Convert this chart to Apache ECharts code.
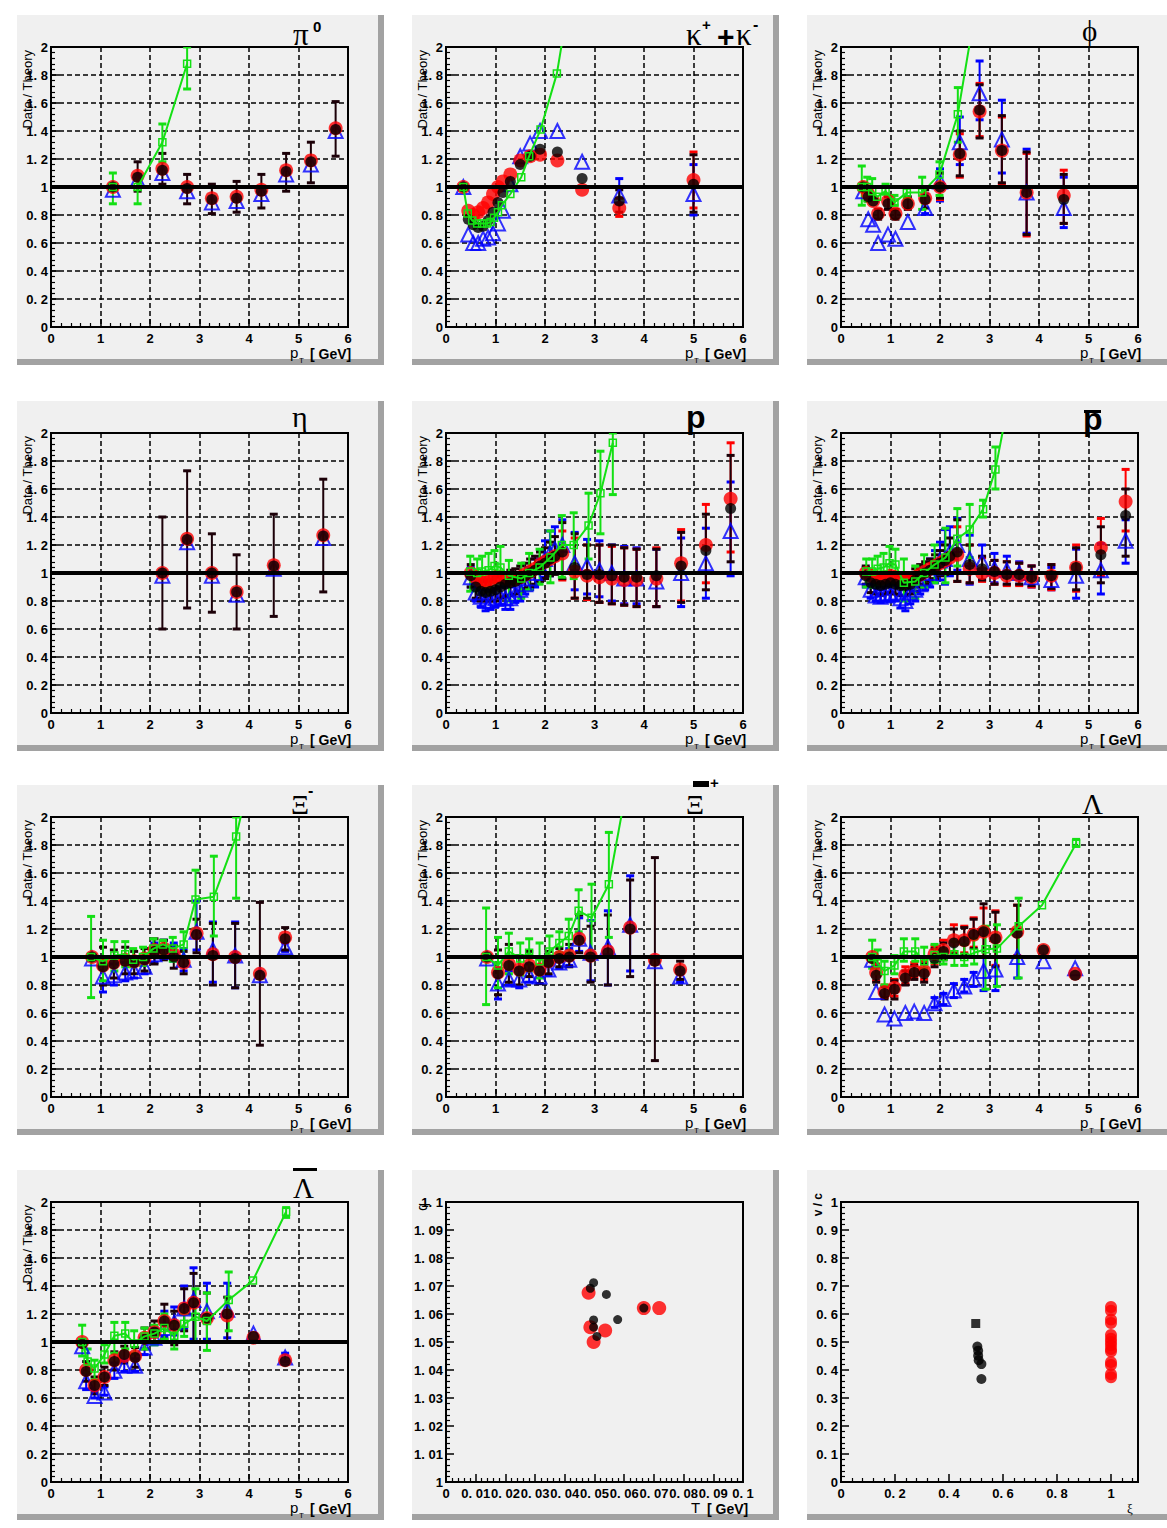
<!DOCTYPE html>
<html><head><meta charset="utf-8">
<script src="https://cdn.jsdelivr.net/npm/echarts@6/dist/echarts.min.js"></script>
<style>html,body{margin:0;padding:0;background:#fff;}#c{width:1167px;height:1528px;}</style>
</head><body><div id="c"></div>
<script>
// ================= DATA =================
// common
const unity = 1;
// --- pi0 ---
const pi0X = [1.25,1.75,2.25,2.75,3.25,3.75,4.25,4.75,5.25,5.75];
const pi0Red = [1.0,1.08,1.13,1.0,0.92,0.93,0.98,1.12,1.19,1.42];
const pi0Black = [1.0,1.07,1.12,0.99,0.91,0.92,0.97,1.11,1.18,1.41];
const pi0Blue = [0.98,1.05,1.10,0.97,0.89,0.90,0.95,1.09,1.16,1.40];
const pi0Lo = [null,0.97,1.02,0.88,0.81,0.82,0.85,0.97,1.03,1.22];
const pi0Hi = [null,1.18,1.24,1.09,1.02,1.04,1.09,1.24,1.32,1.61];
const pi0GX = [1.25,1.75,2.25,2.75];
const pi0G = [1.0,1.0,1.32,1.88];
const pi0GLo = [0.88,0.88,1.18,1.70];
const pi0GHi = [1.10,1.09,1.45,2.0];
// --- K+ + K- ---
const kX = [0.35,0.45,0.55,0.65,0.75,0.85,0.95,1.05,1.15,1.3,1.5,1.7,1.9,2.25,2.75,3.5,5.0];
const kRed = [1.0,0.83,0.80,0.82,0.85,0.89,0.95,1.0,1.04,1.09,1.19,1.22,1.23,1.19,0.98,0.85,1.05];
const kBlack = [1.0,0.77,0.73,0.71,0.72,0.76,0.82,0.89,0.96,1.04,1.16,1.22,1.27,1.25,1.06,0.90,1.02];
const kBlue = [1.0,0.66,0.60,0.60,0.63,0.64,0.67,0.74,0.83,1.02,1.22,1.31,1.40,1.40,1.18,0.94,0.95];
const kLo = [null,null,null,null,null,null,null,null,null,null,null,null,null,null,null,0.82,0.82];
const kHi = [null,null,null,null,null,null,null,null,null,null,null,null,null,null,null,0.98,1.23];
const kRedLo = [null,null,null,null,null,null,null,null,null,null,null,null,null,null,null,0.79,0.85];
const kRedHi = [null,null,null,null,null,null,null,null,null,null,null,null,null,null,null,0.92,1.25];
const kBlueLo = [null,null,null,null,null,null,null,null,null,null,null,null,null,null,null,0.88,0.80];
const kBlueHi = [null,null,null,null,null,null,null,null,null,null,null,null,null,null,null,1.06,1.16];
const kGX = [0.35,0.44,0.53,0.63,0.73,0.83,0.90,0.97,1.05,1.13,1.30,1.52,1.68,1.91,2.24,2.75];
const kG = [1.0,0.81,0.76,0.74,0.74,0.74,0.75,0.78,0.82,0.87,0.95,1.07,1.22,1.41,1.81,2.9];
// --- phi ---
const phiX = [0.45,0.55,0.65,0.75,0.95,1.1,1.35,1.7,2.0,2.4,2.8,3.25,3.75,4.5];
const phiRed = [1.0,0.95,0.9,0.81,0.9,0.81,0.88,0.92,1.0,1.23,1.54,1.26,0.96,0.94];
const phiBlack = [1.0,0.93,0.9,0.80,0.88,0.80,0.88,0.91,1.0,1.24,1.55,1.26,0.96,0.91];
const phiBlue = [0.97,0.77,0.73,0.60,0.66,0.63,0.75,0.85,1.04,1.32,1.67,1.34,0.96,0.85];
const phiLo = [null,0.9,null,0.77,0.84,0.77,0.84,0.85,0.92,1.08,1.35,1.03,0.66,0.74];
const phiHi = [null,0.97,null,0.84,0.93,0.84,0.93,0.98,1.1,1.4,1.73,1.51,1.25,1.09];
const phiRedLo = [null,null,null,null,null,null,null,null,0.91,1.07,1.36,1.02,0.65,0.74];
const phiRedHi = [null,null,null,null,null,null,null,null,1.1,1.38,1.74,1.5,1.24,1.12];
const phiBlueLo = [null,null,null,null,null,null,null,0.81,0.9,1.16,1.48,1.1,0.67,0.71];
const phiBlueHi = [null,null,null,null,null,null,null,0.95,1.13,1.5,1.9,1.62,1.27,1.07];
const phiGX = [0.42,0.53,0.63,0.73,0.9,1.08,1.33,1.64,1.99,2.36,2.8];
const phiG = [1.0,1.0,0.97,0.93,0.97,0.89,0.96,0.96,1.09,1.52,2.45];
const phiGLo = [0.87,0.9,0.93,null,0.95,0.87,0.92,0.84,0.94,1.32,null];
const phiGHi = [1.15,1.07,1.06,null,1.02,0.94,1.0,1.07,1.18,1.71,null];
// --- eta ---
const etaX = [2.25,2.75,3.25,3.75,4.5,5.5];
const etaRed = [1.0,1.245,1.0,0.865,1.055,1.27];
const etaBlack = [1.0,1.24,1.0,0.865,1.05,1.265];
const etaBlue = [0.98,1.22,0.98,0.845,1.03,1.25];
const etaLo = [0.6,0.75,0.72,0.6,0.69,0.865];
const etaHi = [1.4,1.73,1.28,1.13,1.42,1.67];
// --- p ---
const pX = [0.5,0.6,0.7,0.8,0.9,1.0,1.1,1.2,1.3,1.4,1.5,1.6,1.7,1.8,1.9,2.0,2.1,2.2,2.35,2.6,2.85,3.1,3.35,3.6,3.85,4.25,4.75,5.25,5.75];
const pRed = [1.0,0.97,0.94,0.93,0.95,0.97,0.97,0.96,0.95,0.96,0.97,0.99,1.01,1.03,1.06,1.08,1.10,1.12,1.14,1.01,0.98,0.97,0.96,0.95,0.95,0.96,1.07,1.2,1.53];
const pBlack = [0.98,0.9,0.87,0.86,0.87,0.88,0.9,0.92,0.93,0.94,0.96,0.98,1.0,1.02,1.05,1.07,1.1,1.12,1.15,1.04,0.99,0.99,0.98,0.97,0.97,0.98,1.05,1.16,1.46];
const pBlue = [0.97,0.86,0.83,0.8,0.8,0.82,0.83,0.82,0.82,0.85,0.88,0.92,0.96,1.0,1.05,1.1,1.14,1.17,1.2,1.07,1.05,1.02,1.0,0.96,0.96,0.94,1.0,1.07,1.3];
const pLo = [0.9,0.82,0.8,0.8,0.8,0.8,0.82,0.83,0.84,0.85,0.87,0.89,0.9,0.92,0.94,0.96,0.98,0.99,0.96,0.82,0.82,0.79,0.78,0.77,0.76,0.76,0.79,0.88,1.08];
const pHi = [1.06,0.98,0.95,0.94,0.95,0.97,0.99,1.0,1.02,1.03,1.05,1.07,1.1,1.12,1.15,1.18,1.22,1.26,1.36,1.28,1.2,1.2,1.2,1.18,1.17,1.17,1.29,1.42,1.84];
const pRedLo = [null,null,null,null,null,null,null,null,null,null,null,null,null,null,null,null,null,null,0.95,0.82,0.81,0.79,0.78,0.77,0.76,0.76,0.8,0.93,1.15];
const pRedHi = [null,null,null,null,null,null,null,null,null,null,null,null,null,null,null,null,null,null,1.3,1.25,1.2,1.2,1.19,1.18,1.17,1.18,1.31,1.49,1.93];
const pBlueLo = [0.9,0.8,0.76,0.73,0.74,0.76,0.77,0.74,0.74,0.79,0.8,0.85,0.88,0.9,0.94,0.97,0.98,1.0,1.0,0.88,0.85,0.83,0.8,0.78,0.78,0.76,0.76,0.82,0.98];
const pBlueHi = [1.04,0.93,0.9,0.88,0.87,0.89,0.9,0.9,0.9,0.92,0.96,1.0,1.04,1.1,1.16,1.23,1.3,1.33,1.38,1.29,1.24,1.23,1.2,1.19,1.18,1.17,1.25,1.32,1.65];
const pGX = [0.49,0.63,0.73,0.86,0.98,1.1,1.27,1.52,1.68,1.89,2.11,2.34,2.58,2.88,3.12,3.37];
const pG = [1.01,1.0,1.01,1.02,1.05,1.04,0.98,0.96,1.0,1.04,1.11,1.2,1.2,1.34,1.57,1.93];
const pGLo = [0.87,0.88,0.9,0.9,0.93,0.93,0.8,0.82,0.88,0.92,0.93,0.97,0.96,1.1,1.28,1.56];
const pGHi = [1.12,1.1,1.12,1.14,1.16,1.19,1.09,1.07,1.14,1.17,1.3,1.41,1.43,1.57,1.87,2.0];
// --- pbar ---
const pbX = [0.5,0.6,0.7,0.8,0.9,1.0,1.1,1.2,1.3,1.4,1.5,1.6,1.7,1.8,1.9,2.0,2.1,2.2,2.35,2.6,2.85,3.1,3.35,3.6,3.85,4.25,4.75,5.25,5.75];
const pbRed = [1.0,0.98,0.97,0.96,0.97,0.98,0.97,0.95,0.94,0.95,0.97,0.99,1.01,1.03,1.05,1.07,1.09,1.11,1.13,1.03,1.0,1.0,0.98,0.98,0.97,0.98,1.04,1.18,1.51];
const pbBlack = [0.98,0.93,0.92,0.91,0.92,0.93,0.92,0.91,0.91,0.92,0.95,0.98,1.0,1.02,1.04,1.07,1.09,1.12,1.15,1.06,1.03,1.01,0.99,0.99,0.97,0.98,1.04,1.13,1.41];
const pbBlue = [0.97,0.88,0.84,0.83,0.84,0.85,0.86,0.82,0.8,0.86,0.88,0.92,0.96,1.0,1.04,1.09,1.1,1.15,1.2,1.1,1.08,1.03,1.02,1.0,0.97,0.95,0.98,1.02,1.23];
const pbLo = [0.92,0.86,0.85,0.84,0.85,0.86,0.85,0.84,0.84,0.85,0.87,0.9,0.92,0.94,0.96,0.98,0.99,1.0,0.94,0.93,0.95,0.92,0.92,0.92,0.91,0.89,0.88,0.93,1.12];
const pbHi = [1.05,1.0,0.99,0.98,0.99,1.0,0.99,0.98,0.98,0.99,1.03,1.06,1.08,1.1,1.13,1.16,1.2,1.25,1.38,1.2,1.12,1.09,1.08,1.07,1.05,1.06,1.18,1.33,1.6];
const pbRedLo = [null,null,null,null,null,null,null,null,null,null,null,null,null,null,null,null,null,null,0.94,0.93,0.94,0.92,0.91,0.91,0.9,0.88,0.87,0.98,1.3];
const pbRedHi = [null,null,null,null,null,null,null,null,null,null,null,null,null,null,null,null,null,null,1.33,1.2,1.11,1.09,1.08,1.07,1.05,1.06,1.2,1.39,1.74];
const pbBlueLo = [0.9,0.82,0.8,0.79,0.8,0.8,0.8,0.75,0.73,0.78,0.8,0.85,0.88,0.9,0.93,0.95,0.92,0.98,1.02,0.92,0.95,0.93,0.92,0.92,0.9,0.88,0.82,0.85,1.07];
const pbBlueHi = [1.04,0.95,0.9,0.88,0.9,0.92,0.93,0.9,0.88,0.93,0.97,1.0,1.04,1.1,1.16,1.22,1.31,1.33,1.39,1.27,1.2,1.14,1.12,1.08,1.05,1.04,1.17,1.21,1.38];
const pbGX = [0.51,0.63,0.74,0.86,0.98,1.1,1.27,1.5,1.68,1.89,2.11,2.35,2.6,2.87,3.12,3.37];
const pbG = [1.01,1.01,1.03,1.04,1.07,1.06,0.93,0.94,1.0,1.06,1.11,1.245,1.31,1.455,1.74,2.2];
const pbGLo = [0.9,0.9,0.92,0.95,0.97,0.93,0.8,0.82,0.9,0.93,0.93,1.05,1.11,1.4,1.6,null];
const pbGHi = [1.1,1.1,1.12,1.14,1.19,1.17,1.1,1.05,1.13,1.2,1.32,1.46,1.49,1.52,1.9,null];
// --- Xi- ---
const xmX = [0.83,1.05,1.27,1.5,1.68,1.89,2.09,2.28,2.48,2.68,2.94,3.27,3.72,4.22,4.73];
const xmRed = [1.0,0.94,0.96,0.98,0.97,0.99,1.05,1.06,1.02,0.96,1.17,1.02,1.0,0.88,1.14];
const xmBlack = [1.0,0.93,0.95,0.97,0.96,0.98,1.04,1.05,1.0,0.96,1.16,1.01,0.99,0.87,1.13];
const xmBlue = [0.99,0.86,0.87,0.89,0.9,0.93,1.02,1.04,1.04,0.98,1.18,1.05,1.01,0.87,1.07];
const xmLo = [null,0.8,0.85,0.88,0.88,0.9,0.95,0.98,0.92,0.88,1.03,0.8,0.78,0.37,1.05];
const xmHi = [null,1.07,1.05,1.07,1.04,1.06,1.13,1.12,1.08,1.04,1.27,1.24,1.24,1.39,1.21];
const xmBlueLo = [null,0.75,0.8,0.83,0.85,0.88,0.96,0.99,0.97,0.9,1.05,0.82,0.78,null,1.04];
const xmBlueHi = [null,0.97,0.95,0.96,0.96,0.99,1.1,1.12,1.1,1.06,1.4,1.25,1.25,null,1.1];
const xmGX = [0.81,1.05,1.28,1.5,1.66,1.86,2.07,2.26,2.46,2.68,2.92,3.29,3.74,4.22];
const xmG = [1.0,0.97,1.01,1.02,0.98,1.0,1.06,1.09,1.06,1.09,1.41,1.43,1.86,2.6];
const xmGLo = [0.71,0.83,0.9,0.93,0.93,0.94,1.0,1.02,0.97,1.0,1.2,1.15,1.42,null];
const xmGHi = [1.29,1.12,1.11,1.11,1.06,1.07,1.13,1.12,1.14,1.18,1.62,1.72,2.0,null];
// --- anti-Xi+ ---
const xpX = [0.83,1.05,1.27,1.48,1.68,1.89,2.07,2.29,2.49,2.69,2.92,3.27,3.72,4.22,4.73];
const xpRed = [1.0,0.89,0.95,0.91,0.94,0.91,0.97,1.0,1.01,1.13,1.01,1.04,1.21,0.98,0.91];
const xpBlack = [1.0,0.88,0.94,0.9,0.93,0.9,0.96,0.99,1.0,1.12,1.0,1.03,1.2,0.97,0.9];
const xpBlue = [0.99,0.81,0.84,0.84,0.87,0.86,0.91,0.96,0.98,1.13,1.03,1.07,1.23,0.97,0.86];
const xpLo = [null,0.73,0.82,0.8,0.86,0.81,0.88,0.93,0.93,1.03,0.82,0.8,0.86,0.26,0.84];
const xpHi = [null,1.05,1.09,1.01,1.04,1.0,1.04,1.06,1.09,1.3,1.22,1.3,1.55,1.71,0.97];
const xpBlueLo = [null,0.7,0.8,0.78,0.82,0.81,0.87,0.92,0.94,1.04,0.83,0.8,0.9,null,0.82];
const xpBlueHi = [null,0.92,0.9,0.92,0.95,0.93,0.97,1.02,1.06,1.28,1.26,1.33,1.58,null,0.9];
const xpGX = [0.81,1.05,1.27,1.5,1.68,1.89,2.09,2.29,2.48,2.68,2.94,3.29,3.72];
const xpG = [1.0,0.94,1.04,0.99,1.03,0.97,1.04,1.1,1.15,1.33,1.28,1.52,2.35];
const xpGLo = [0.66,0.78,0.88,0.87,0.9,0.85,0.95,1.03,1.03,1.18,1.03,1.14,null];
const xpGHi = [1.35,1.14,1.17,1.1,1.13,1.1,1.15,1.18,1.27,1.48,1.52,1.89,null];
// --- Lambda ---
const laX = [0.63,0.71,0.88,1.08,1.3,1.48,1.68,1.89,2.07,2.28,2.49,2.68,2.88,3.12,3.56,4.09,4.73];
const laRed = [1.0,0.89,0.75,0.78,0.87,0.9,0.9,1.02,1.05,1.12,1.12,1.16,1.18,1.14,1.18,1.05,0.88];
const laBlack = [0.99,0.87,0.74,0.77,0.85,0.89,0.88,0.99,1.04,1.1,1.11,1.16,1.18,1.13,1.17,1.05,0.87];
const laBlue = [0.98,0.75,0.59,0.56,0.6,0.61,0.6,0.67,0.7,0.76,0.79,0.84,0.9,0.91,1.0,0.97,0.92];
const laLo = [null,0.82,0.7,0.7,0.8,0.84,0.82,0.93,0.98,1.02,1.02,1.06,1.0,0.93,1.0,null,null];
const laHi = [null,0.93,0.79,0.83,0.9,0.94,0.95,1.06,1.1,1.2,1.21,1.27,1.38,1.32,1.37,null,null];
const laRedLo = [null,0.83,0.71,0.72,0.81,0.85,0.84,0.95,0.99,1.03,1.03,1.07,1.0,0.94,1.01,null,null];
const laRedHi = [null,0.95,0.8,0.84,0.93,0.96,0.97,1.08,1.12,1.23,1.22,1.28,1.35,1.33,1.37,null,null];
const laBlueLo = [null,null,null,null,null,null,null,0.64,0.66,0.71,0.75,0.79,0.76,0.76,0.85,null,null];
const laBlueHi = [null,null,null,null,null,null,null,0.71,0.74,0.81,0.84,0.89,1.0,1.0,1.0,null,null];
const laGX = [0.63,0.74,0.88,1.08,1.27,1.5,1.68,1.89,2.07,2.29,2.49,2.69,2.92,3.15,3.59,4.06,4.75];
const laG = [1.0,0.955,0.9,0.94,1.04,1.04,0.97,1.015,1.0,1.02,1.0,1.03,1.055,1.06,1.22,1.37,1.81];
const laGLo = [0.92,0.88,0.8,0.88,0.97,0.97,0.92,0.96,0.95,0.94,0.94,0.95,0.77,0.79,0.85,null,1.79];
const laGHi = [1.12,1.05,0.97,1.01,1.13,1.13,1.07,1.09,1.05,1.11,1.09,1.13,1.22,1.23,1.42,null,1.84];
// --- anti-Lambda ---
const lbX = [0.63,0.71,0.88,1.08,1.28,1.48,1.7,1.89,2.09,2.29,2.49,2.69,2.88,3.15,3.56,4.09,4.73];
const lbRed = [1.0,0.8,0.69,0.75,0.87,0.9,0.9,1.03,1.07,1.15,1.12,1.24,1.28,1.17,1.19,1.03,0.87];
const lbBlack = [0.99,0.79,0.69,0.75,0.86,0.91,0.89,1.02,1.07,1.15,1.12,1.24,1.28,1.17,1.2,1.04,0.86];
const lbBlue = [0.97,0.72,0.615,0.64,0.795,0.83,0.83,0.96,1.03,1.1,1.14,1.24,1.3,1.22,1.23,1.06,0.89];
const lbLo = [null,0.72,0.63,0.69,0.8,0.85,0.82,0.95,1.0,1.02,0.98,1.08,1.0,1.0,1.0,null,null];
const lbHi = [null,0.86,0.75,0.82,0.93,0.97,0.96,1.1,1.15,1.27,1.22,1.38,1.49,1.35,1.32,null,null];
const lbBlueLo = [null,0.66,0.6,0.62,0.74,0.79,0.79,0.91,0.98,1.04,1.05,1.1,1.02,1.02,1.03,null,0.86];
const lbBlueHi = [null,0.78,0.65,0.68,0.85,0.87,0.88,1.02,1.1,1.22,1.25,1.4,1.53,1.42,1.42,null,0.92];
const lbGX = [0.63,0.74,0.88,1.08,1.28,1.5,1.68,1.89,2.09,2.29,2.49,2.69,2.92,3.15,3.59,4.08,4.75];
const lbG = [1.0,0.86,0.81,0.91,1.045,1.06,0.99,1.04,1.06,1.1,1.045,1.13,1.18,1.15,1.3,1.44,1.93];
const lbGLo = [0.9,0.78,0.73,0.85,0.92,0.95,0.92,0.95,0.98,1.02,0.95,1.04,1.0,0.94,1.08,null,1.89];
const lbGHi = [1.12,0.95,0.87,0.98,1.14,1.14,1.08,1.1,1.12,1.2,1.14,1.2,1.38,1.35,1.5,null,1.96];
// --- q vs T ---
const qRedT = [0.048,0.0497,0.0486,0.0536,0.0666,0.0718];
const qRedQ = [1.0676,1.0500,1.0553,1.0541,1.0621,1.0621];
const qBlackT = [0.0486,0.0497,0.054,0.0497,0.0497,0.0508,0.0578,0.0666];
const qBlackQ = [1.0692,1.0712,1.067,1.0579,1.0553,1.052,1.058,1.0621];
// --- v/c vs xi ---
const vSqXi = [0.499];
const vSqV = [0.566];
const vBlackXi = [0.505,0.508,0.508,0.51,0.52,0.52];
const vBlackV = [0.484,0.469,0.451,0.435,0.421,0.368];
const vRedXi = [1,1,1,1,1,1,1,1,1,1,1,1,1,1];
const vRedV = [0.625,0.612,0.58,0.568,0.525,0.512,0.5,0.488,0.475,0.466,0.428,0.418,0.385,0.374];
// axis ticks
const ptTicks = {min:0, max:6, step:1};
const ratioTicks = {min:0, max:2, step:0.2};
const tTicks = {min:0, max:0.1, step:0.01};
const qTicks = {min:1, max:1.1, step:0.01};
const xiTicks = {min:0, max:1.1, step:0.2};
const vTicks = {min:0, max:1, step:0.1};

// ================= BUILD =================
const GREEN = '#14e014';
const COLS = [14,409,804], ROWS = [10,396,780,1165];
const grids=[], xAxes=[], yAxes=[], series=[], graphics=[];
const LABEL_FONT = 'Liberation Sans';

function fmt(v, dec){
  if (Math.abs(v - Math.round(v)) < 1e-9) return String(Math.round(v));
  let s = v.toFixed(dec).replace(/0+$/,'');
  return s.replace('.', '. ');
}
function pts(xs, ys){ const o=[]; xs.forEach((x,i)=>{ if(ys[i]!=null) o.push([x,ys[i]]); }); return o; }
function errs(xs, lo, hi){ const o=[]; if(!lo||!hi) return o; xs.forEach((x,i)=>{ if(lo[i]!=null&&hi[i]!=null) o.push([x,lo[i],hi[i]]); }); return o; }
function errSeries(gi, data, color, lw){
  return {type:'custom', xAxisIndex:gi, yAxisIndex:gi, data, clip:true, silent:true,
    encode:{x:0, y:[1,2]},
    renderItem(params, api){
      const x=api.value(0), lo=api.value(1), hi=api.value(2);
      const a=api.coord([x,lo]), b=api.coord([x,hi]); const c=4;
      return {type:'group', children:[
        {type:'line', shape:{x1:a[0],y1:a[1],x2:b[0],y2:b[1]}, style:{stroke:color,lineWidth:lw}},
        {type:'line', shape:{x1:a[0]-c,y1:a[1],x2:a[0]+c,y2:a[1]}, style:{stroke:color,lineWidth:lw+1}},
        {type:'line', shape:{x1:b[0]-c,y1:b[1],x2:b[0]+c,y2:b[1]}, style:{stroke:color,lineWidth:lw+1}}
      ]};
    }};
}
function text(t, x, y, font, o={}){
  graphics.push({type:'text', z:100, x, y, rotation:o.rot||0, silent:true,
    style:{text:t, font, fill:'#000', align:o.align||'left', textAlign:o.align||'left',
      verticalAlign:o.va||'bottom', textVerticalAlign:o.va||'bottom'}});
}
function rect(x,y,w,h,fill,z){ graphics.push({type:'rect', z:z==null?-10:z, silent:true, shape:{x,y,width:w,height:h}, style:{fill}}); }

function axisCommon(t, dec, grid, extra){
  return Object.assign({gridIndex:grid, type:'value', min:t.min, max:t.max, interval:t.step,
    axisLine:{show:true, onZero:false, lineStyle:{color:'#000', width:2}},
    axisTick:{show:true, inside:true, length:8, lineStyle:{color:'#000', width:1.5}},
    minorTick:{show:true, splitNumber:5, length:4, lineStyle:{color:'#000', width:1.2}},
    splitLine:{show:false},
    axisLabel:{color:'#000', fontSize:13, fontWeight:'bold', fontFamily:LABEL_FONT, margin:5,
      formatter:v=>fmt(v,dec)}
  }, extra||{});
}
const dashed = {show:true, lineStyle:{color:'#000', type:[5,3], width:1.5}};

function panelFrame(i){
  const L=COLS[i%3], T=ROWS[Math.floor(i/3)];
  rect(L+3, T+5, 361, 344, '#f0f0f0');
  rect(L+364, T+5, 6, 350, '#a2a2a2');
  rect(L+3, T+349, 367, 6, '#a2a2a2');
  grids.push({left:L+37, top:T+37, width:297, height:280, show:true, borderColor:'#000', borderWidth:2,
    backgroundColor:'rgba(0,0,0,0)', containLabel:false, outerBoundsMode:'none'});
  return [L,T];
}
function ptLabels(L,T){
  text('Data / Theory', L+13, T+40, '13px Liberation Sans', {rot:Math.PI/2, align:'right', va:'middle'});
  text('p', L+276, T+350, '15px Liberation Sans');
  text('T', L+285, T+354, '8px Liberation Sans');
  text('[ GeV]', L+296, T+351, 'bold 14px Liberation Sans');
}

const dataPanels = [
  {x:pi0X, red:pi0Red, black:pi0Black, blue:pi0Blue, lo:pi0Lo, hi:pi0Hi, gx:pi0GX, g:pi0G, glo:pi0GLo, ghi:pi0GHi},
  {x:kX, red:kRed, black:kBlack, blue:kBlue, lo:kLo, hi:kHi, rlo:kRedLo, rhi:kRedHi, ulo:kBlueLo, uhi:kBlueHi, gx:kGX, g:kG},
  {x:phiX, red:phiRed, black:phiBlack, blue:phiBlue, lo:phiLo, hi:phiHi, rlo:phiRedLo, rhi:phiRedHi, ulo:phiBlueLo, uhi:phiBlueHi, gx:phiGX, g:phiG, glo:phiGLo, ghi:phiGHi},
  {x:etaX, red:etaRed, black:etaBlack, blue:etaBlue, lo:etaLo, hi:etaHi},
  {x:pX, red:pRed, black:pBlack, blue:pBlue, lo:pLo, hi:pHi, rlo:pRedLo, rhi:pRedHi, ulo:pBlueLo, uhi:pBlueHi, gx:pGX, g:pG, glo:pGLo, ghi:pGHi},
  {x:pbX, red:pbRed, black:pbBlack, blue:pbBlue, lo:pbLo, hi:pbHi, rlo:pbRedLo, rhi:pbRedHi, ulo:pbBlueLo, uhi:pbBlueHi, gx:pbGX, g:pbG, glo:pbGLo, ghi:pbGHi},
  {x:xmX, red:xmRed, black:xmBlack, blue:xmBlue, lo:xmLo, hi:xmHi, ulo:xmBlueLo, uhi:xmBlueHi, gx:xmGX, g:xmG, glo:xmGLo, ghi:xmGHi},
  {x:xpX, red:xpRed, black:xpBlack, blue:xpBlue, lo:xpLo, hi:xpHi, ulo:xpBlueLo, uhi:xpBlueHi, gx:xpGX, g:xpG, glo:xpGLo, ghi:xpGHi},
  {x:laX, red:laRed, black:laBlack, blue:laBlue, lo:laLo, hi:laHi, rlo:laRedLo, rhi:laRedHi, ulo:laBlueLo, uhi:laBlueHi, gx:laGX, g:laG, glo:laGLo, ghi:laGHi},
  {x:lbX, red:lbRed, black:lbBlack, blue:lbBlue, lo:lbLo, hi:lbHi, ulo:lbBlueLo, uhi:lbBlueHi, gx:lbGX, g:lbG, glo:lbGLo, ghi:lbGHi}
];

dataPanels.forEach((d, gi) => {
  const [L,T] = panelFrame(gi);
  xAxes.push(axisCommon(ptTicks, 1, gi, {splitLine:dashed}));
  yAxes.push(axisCommon(ratioTicks, 1, gi, {splitLine:dashed, axisLabel:{color:'#000', fontSize:13, fontWeight:'bold', fontFamily:LABEL_FONT, margin:3, formatter:v=>fmt(v,1)}}));
  ptLabels(L,T);
  const ue = errs(d.x, d.ulo, d.uhi);
  if (ue.length) series.push(errSeries(gi, ue, '#0000ff', 2));
  series.push({type:'scatter', xAxisIndex:gi, yAxisIndex:gi, silent:true, data:pts(d.x, d.blue),
    symbol:'triangle', symbolSize:14, itemStyle:{color:'rgba(0,0,0,0)', borderColor:'#0000ff', borderWidth:2},
    markLine:{silent:true, symbol:['none','none'], label:{show:false}, data:[{yAxis:unity}],
      lineStyle:{color:'#000', width:4, type:'solid'}}});
  const re = errs(d.x, d.rlo, d.rhi);
  if (re.length) series.push(errSeries(gi, re, '#ff0000', 2));
  series.push({type:'scatter', xAxisIndex:gi, yAxisIndex:gi, silent:true, data:pts(d.x, d.red),
    symbol:'circle', symbolSize:14, itemStyle:{color:'#ff0000'}});
  const be = errs(d.x, d.lo, d.hi);
  if (be.length) series.push(errSeries(gi, be, '#1c0008', 2));
  series.push({type:'scatter', xAxisIndex:gi, yAxisIndex:gi, silent:true, data:pts(d.x, d.black),
    symbol:'circle', symbolSize:11, itemStyle:{color:'#000'}});
  if (d.gx) {
    const ge = errs(d.gx, d.glo, d.ghi);
    if (ge.length) series.push(errSeries(gi, ge, GREEN, 2));
    series.push({type:'line', xAxisIndex:gi, yAxisIndex:gi, silent:true, data:pts(d.gx, d.g), clip:true,
      symbol:'rect', symbolSize:7, showAllSymbol:true, lineStyle:{color:GREEN, width:2},
      itemStyle:{color:'rgba(0,0,0,0)', borderColor:GREEN, borderWidth:1.5}});
  }
});

// ---- panel 11: q vs T ----
{
  const gi = 10; const [L,T] = panelFrame(gi);
  xAxes.push(axisCommon(tTicks, 2, gi));
  yAxes.push(axisCommon(qTicks, 2, gi, {axisLabel:{color:'#000', fontSize:13, fontWeight:'bold', fontFamily:LABEL_FONT, margin:3, formatter:v=>fmt(v,2)}}));
  text('q', L+13, T+38, '14px Liberation Sans', {rot:Math.PI/2, align:'right', va:'middle'});
  text('T', L+282, T+350, '15px Liberation Sans');
  text('[ GeV]', L+298, T+351, 'bold 14px Liberation Sans');
  series.push({type:'scatter', xAxisIndex:gi, yAxisIndex:gi, silent:true, data:pts(qRedT, qRedQ), symbol:'circle', symbolSize:14, itemStyle:{color:'#ff0000'}});
  series.push({type:'scatter', xAxisIndex:gi, yAxisIndex:gi, silent:true, data:pts(qBlackT, qBlackQ), symbol:'circle', symbolSize:9, itemStyle:{color:'#000'}});
}
// ---- panel 12: v/c vs xi ----
{
  const gi = 11; const [L,T] = panelFrame(gi);
  xAxes.push(axisCommon(xiTicks, 1, gi, {axisLabel:{color:'#000', fontSize:13, fontWeight:'bold', fontFamily:LABEL_FONT, margin:5, showMaxLabel:false, formatter:v=>fmt(v,1)}}));
  yAxes.push(axisCommon(vTicks, 1, gi, {axisLabel:{color:'#000', fontSize:13, fontWeight:'bold', fontFamily:LABEL_FONT, margin:3, formatter:v=>fmt(v,1)}}));
  text('v / c', L+14, T+28, 'bold 12px Liberation Sans', {rot:Math.PI/2, align:'right', va:'middle'});
  text('ξ', L+323, T+350, '13px Liberation Serif');
  series.push({type:'scatter', xAxisIndex:gi, yAxisIndex:gi, silent:true, data:pts(vRedXi, vRedV), symbol:'circle', symbolSize:12, itemStyle:{color:'#ff0000'}});
  series.push({type:'scatter', xAxisIndex:gi, yAxisIndex:gi, silent:true, data:pts(vBlackXi, vBlackV), symbol:'circle', symbolSize:10, itemStyle:{color:'#000'}});
  series.push({type:'scatter', xAxisIndex:gi, yAxisIndex:gi, silent:true, data:pts(vSqXi, vSqV), symbol:'rect', symbolSize:9, itemStyle:{color:'#000'}});
}

// ---- panel titles ----
const SER = 'Liberation Serif';
function P(i){ return [COLS[i%3], ROWS[Math.floor(i/3)]]; }
{ const [L,T]=P(0); text('π', L+279, T+40, '31px '+SER); text('0', L+299, T+9, 'bold 15px Liberation Sans', {va:'top'}); }
{ const [L,T]=P(1); text('κ', L+277, T+40, '31px '+SER); text('+', L+293, T+7, 'bold 15px Liberation Sans', {va:'top'});
  text('+', L+308, T+41, 'bold 30px Liberation Sans'); text('κ', L+327, T+40, '31px '+SER); text('-', L+344, T+6, 'bold 16px Liberation Sans', {va:'top'}); }
{ const [L,T]=P(2); text('ϕ', L+278, T+35, '29px '+SER); }
{ const [L,T]=P(3); text('η', L+278, T+35, '30px '+SER); }
{ const [L,T]=P(4); text('p', L+277, T+37, 'bold 32px Liberation Sans'); }
{ const [L,T]=P(5); text('p', L+279, T+39, 'bold 32px Liberation Sans'); rect(L+280, T+14, 17, 3, '#000', 100); }
{ const [L,T]=P(6); text('Ξ', L+277, T+38, '28px '+SER); text('-', L+294, T+2, 'bold 16px Liberation Sans', {va:'top'}); }
{ const [L,T]=P(7); text('Ξ', L+277, T+38, '28px '+SER); rect(L+284, T+1, 16, 6, '#000', 100); text('+', L+301, T-5, 'bold 15px Liberation Sans', {va:'top'}); }
{ const [L,T]=P(8); text('Λ', L+278, T+38, '29px '+SER); }
{ const [L,T]=P(9); text('Λ', L+279, T+37, '29px '+SER); rect(L+279, T+3, 24, 3, '#000', 100); }

const chart = echarts.init(document.getElementById('c'), null, {renderer:'svg', width:1167, height:1528});
chart.setOption({animation:false, backgroundColor:'#ffffff', grid:grids, xAxis:xAxes, yAxis:yAxes, series, graphic:{elements:graphics}});
</script></body></html>
